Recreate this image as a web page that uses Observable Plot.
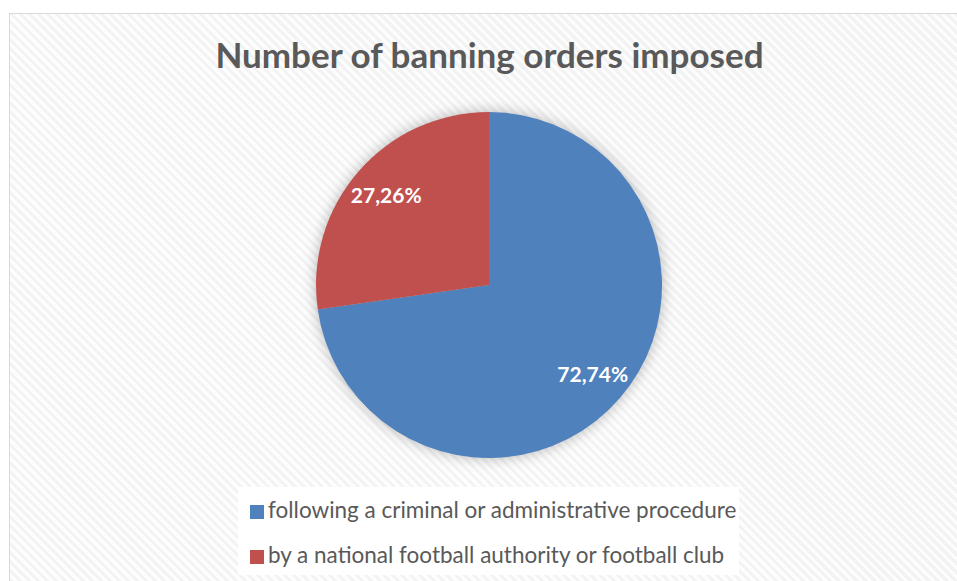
<!DOCTYPE html>
<html>
<head>
<meta charset="utf-8">
<script src="https://cdn.jsdelivr.net/npm/d3@7"></script>
<script src="https://cdn.jsdelivr.net/npm/@observablehq/plot@0.6"></script>
<style>
  html, body { margin: 0; padding: 0; background: #ffffff; width: 957px; height: 581px; overflow: hidden; }
  #frame {
    position: absolute; left: 9px; top: 13px; width: 970px; height: 590px;
    border: 1px solid #d9d9d9;
    background: repeating-linear-gradient(45deg, #fdfdfd 0px, #fdfdfd 3.2px, #f3f3f3 3.2px, #f3f3f3 6.36px);
  }
  #title {
    position: absolute; left: 0; width: 979px; top: 37px; text-align: center;
    font-family: Lato, sans-serif; font-weight: bold; font-size: 35px; line-height: 35px;
    color: #595959; white-space: nowrap;
  }
  #legend {
    position: absolute; left: 238px; top: 487px; width: 501px; height: 88px; background: #ffffff;
  }
  .row { position: absolute; left: 12px; height: 23px; white-space: nowrap;
    font-family: Lato, sans-serif; font-size: 22.5px; line-height: 22.5px; color: #595959; }
  .sw { position: absolute; left: 0; width: 14px; height: 14px; }
  .lbl { position: absolute; left: 18px; top: 0; }
  #chart { position: absolute; left: 0; top: 0; }
  #chart svg { background: transparent; }
</style>
</head>
<body>
<div id="frame"></div>
<div id="title"></div>
<div id="legend"></div>
<div id="chart"></div>
<script>
// ---- data ----
const chartTitle = "Number of banning orders imposed";
const categories = [
  "following a criminal or administrative procedure",
  "by a national football authority or football club"
];
const shares = [72.74, 27.26];
const colors = ["#4f81bd", "#c0504d"];

const data = categories.map((c, i) => ({category: c, share: shares[i]}));
const color = Plot.scale({color: {type: "ordinal", domain: categories, range: colors}});

// pie geometry from data (angles clockwise from 12 o'clock)
const arcs = d3.pie().sort(null).value(d => d.share)(data);
const labelRadius = 0.79;
const labels = arcs.map(a => {
  const mid = (a.startAngle + a.endAngle) / 2;
  return {
    x: labelRadius * Math.sin(mid),
    y: labelRadius * Math.cos(mid),
    text: a.data.share.toFixed(2).replace(".", ",") + "%"
  };
});

function pieMark(index, scales) {
  const cx = scales.x(0), cy = scales.y(0);
  const r = scales.x(1) - scales.x(0);
  const arc = d3.arc().innerRadius(0).outerRadius(r);
  const g = d3.create("svg:g")
    .attr("transform", `translate(${cx},${cy})`)
    .style("filter", "drop-shadow(0px 0px 7px rgba(0,0,0,0.28))");
  g.selectAll("path").data(arcs).join("path")
    .attr("d", arc)
    .attr("fill", d => color.apply(d.data.category));
  return g.node();
}

const plot = Plot.plot({
  width: 957,
  height: 581,
  margin: 0,
  x: {domain: [-1, 1], range: [316, 662], axis: null},
  y: {domain: [-1, 1], range: [458, 112], axis: null},
  style: {background: "transparent"},
  marks: [
    pieMark,
    Plot.text(labels, {
      x: "x", y: "y", text: "text",
      fill: "white", fontWeight: "bold", fontSize: 21,
      fontFamily: "Lato, sans-serif", textAnchor: "middle"
    })
  ]
});
document.getElementById("chart").appendChild(plot);

document.getElementById("title").textContent = chartTitle;

const legend = document.getElementById("legend");
categories.forEach((c, i) => {
  const row = document.createElement("div");
  row.className = "row";
  row.style.top = (11.5 + i * 45) + "px";
  const sw = document.createElement("div");
  sw.className = "sw";
  sw.style.background = color.apply(c);
  sw.style.top = "6px";
  const lbl = document.createElement("div");
  lbl.className = "lbl";
  lbl.textContent = c;
  row.appendChild(sw);
  row.appendChild(lbl);
  legend.appendChild(row);
});
</script>
</body>
</html>
